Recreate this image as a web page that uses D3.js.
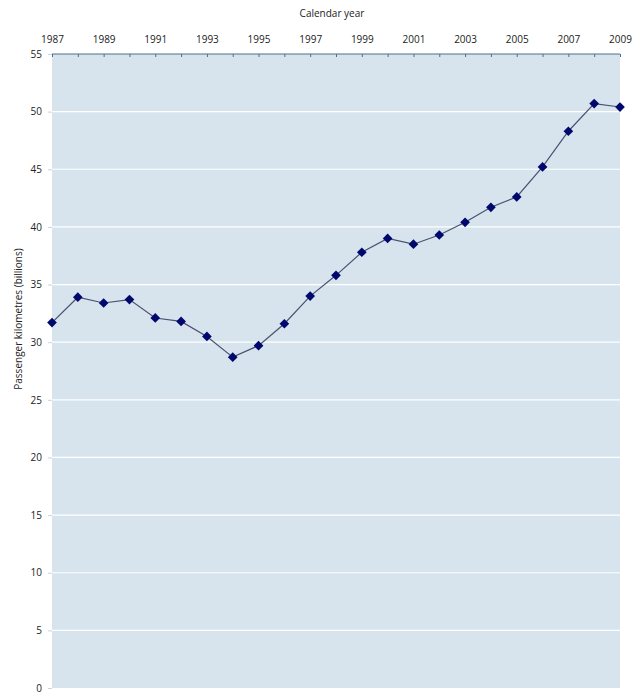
<!DOCTYPE html>
<html>
<head>
<meta charset="utf-8">
<script src="https://cdn.jsdelivr.net/npm/d3@7"></script>
<style>
  body { margin: 0; background: #fff; }
  text { font-family: 'Open Sans', sans-serif; fill: #222; }
</style>
</head>
<body>
<svg id="area" width="632" height="692"></svg>
<script>
const years = [1987, 1988, 1989, 1990, 1991, 1992, 1993, 1994, 1995, 1996, 1997, 1998,
  1999, 2000, 2001, 2002, 2003, 2004, 2005, 2006, 2007, 2008, 2009];
const passengerKm = [31.7, 33.9, 33.4, 33.7, 32.1, 31.8, 30.5, 28.7, 29.7, 31.6, 34.0, 35.8,
  37.8, 39.0, 38.5, 39.3, 40.4, 41.7, 42.6, 45.2, 48.3, 50.7, 50.4];
const yTicks = [0, 5, 10, 15, 20, 25, 30, 35, 40, 45, 50, 55];
const xLabelYears = [1987, 1989, 1991, 1993, 1995, 1997, 1999, 2001, 2003, 2005, 2007, 2009];

const data = years.map((y, i) => ({ year: y, value: passengerKm[i] }));

const margin = { top: 54, right: 12, bottom: 4, left: 52 };
const width = 632 - margin.left - margin.right;
const height = 692 - margin.top - margin.bottom;

const svg = d3.select('#area');
const g = svg.append('g').attr('transform', `translate(${margin.left},${margin.top})`);

const x = d3.scaleLinear().domain([1987, 2009]).range([0, width]);
const y = d3.scaleLinear().domain([0, 55]).range([height, 0]);

// plot background
g.append('rect')
  .attr('width', width)
  .attr('height', height)
  .attr('fill', '#d7e4ee');

// gridlines
g.selectAll('line.grid')
  .data(yTicks.filter((d) => d > 0 && d < 55))
  .enter().append('line')
  .attr('class', 'grid')
  .attr('x1', 0)
  .attr('x2', width)
  .attr('y1', (d) => y(d))
  .attr('y2', (d) => y(d))
  .attr('stroke', '#fff')
  .attr('stroke-width', 1.2);

// y axis (left, no line)
const yAxis = d3.axisLeft(y).tickValues(yTicks).tickSize(4).tickPadding(6);
const gy = g.append('g').call(yAxis);
gy.select('.domain').remove();
gy.selectAll('.tick line').attr('stroke', '#c8d4dc');
gy.selectAll('text').style('font-size', '10px');

// x axis on top: minor ticks every year, labels every 2
const xAxis = d3.axisTop(x).tickValues(years).tickSize(3).tickPadding(8)
  .tickFormat((d) => (xLabelYears.includes(d) ? d : ''));
const gx = g.append('g').call(xAxis);
gx.select('.domain').attr('stroke', '#4f6f86').attr('d', `M0,0H${width}`);
gx.selectAll('.tick line').attr('stroke', '#4f6f86').attr('y2', 3);
gx.selectAll('text').style('font-size', '10px');

// line
const line = d3.line().x((d) => x(d.year)).y((d) => y(d.value));
g.append('path')
  .datum(data)
  .attr('d', line)
  .attr('fill', 'none')
  .attr('stroke', '#4a5070')
  .attr('stroke-width', 1.2);

// diamond markers
g.selectAll('path.marker')
  .data(data)
  .enter().append('path')
  .attr('class', 'marker')
  .attr('d', d3.symbol().type(d3.symbolDiamond2).size(60))
  .attr('transform', (d) => `translate(${x(d.year)},${y(d.value)}) rotate(0)`)
  .attr('fill', '#00086e');

// titles
svg.append('text')
  .attr('x', margin.left + width / 2 - 4)
  .attr('y', 17)
  .attr('text-anchor', 'middle')
  .style('font-size', '10px')
  .text('Calendar year');

svg.append('text')
  .attr('transform', `translate(22, ${margin.top + height / 2 - 52}) rotate(-90)`)
  .attr('text-anchor', 'middle')
  .style('font-size', '10px')
  .text('Passenger kilometres (billions)');
</script>
</body>
</html>
